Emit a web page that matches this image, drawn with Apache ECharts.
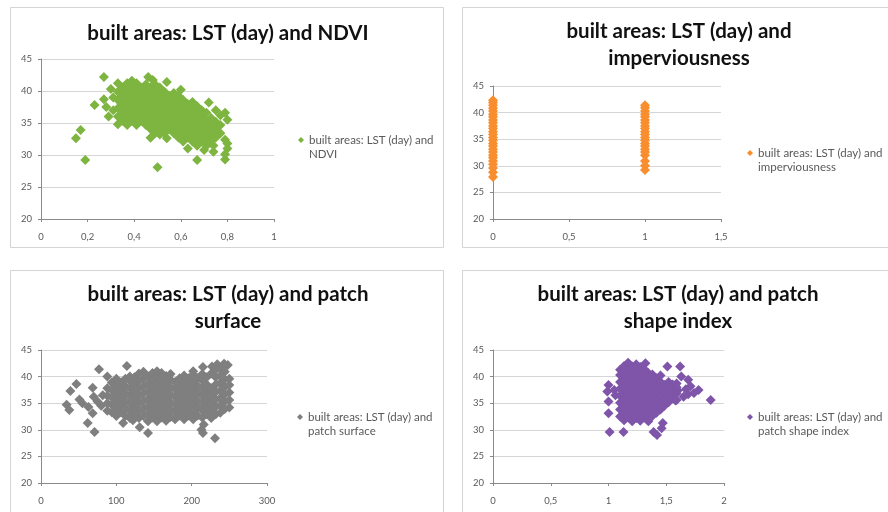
<!DOCTYPE html>
<html>
<head>
<meta charset="utf-8">
<script src="https://cdn.jsdelivr.net/npm/echarts@6/dist/echarts.min.js"></script>
<style>
  html, body { margin: 0; padding: 0; background: #fff; }
  #chart { width: 888px; height: 512px; }
</style>
</head>
<body>
<div id="chart"></div>
<script>
  // values (x, LST day)
  var ndviPts = [
    [0.15, 32.6], [0.17, 33.9], [0.19, 29.2], [0.23, 37.8], [0.27, 42.2], [0.27, 38.7], [0.28, 37.5], [0.29, 36.0],
    [0.30, 40.3], [0.31, 39.0], [0.31, 37.0], [0.33, 34.8], [0.46, 42.2], [0.48, 41.7], [0.54, 41.4], [0.60, 40.2],
    [0.50, 28.1], [0.47, 32.7], [0.54, 32.6], [0.67, 29.2], [0.63, 31.0], [0.70, 30.8], [0.74, 30.5], [0.74, 31.5],
    [0.79, 29.3], [0.79, 30.1], [0.80, 31.0], [0.80, 31.8], [0.79, 32.4], [0.80, 35.5], [0.79, 36.6], [0.75, 37.0],
    [0.77, 36.2], [0.72, 38.2],
    [0.33, 36.0], [0.33, 37.3], [0.33, 38.6], [0.33, 39.9], [0.33, 41.2],
    [0.35, 35.35], [0.35, 36.65], [0.35, 37.95], [0.35, 39.25], [0.35, 40.55],
    [0.37, 34.7], [0.37, 36.0], [0.37, 37.3], [0.37, 38.6], [0.37, 39.9], [0.37, 41.2],
    [0.39, 35.35], [0.39, 36.65], [0.39, 37.95], [0.39, 39.25], [0.39, 40.55], [0.39, 41.6],
    [0.41, 34.7], [0.41, 36.0], [0.41, 37.3], [0.41, 38.6], [0.41, 39.9], [0.41, 41.2],
    [0.43, 35.35], [0.43, 36.65], [0.43, 37.95], [0.43, 39.25], [0.43, 40.55],
    [0.45, 34.7], [0.45, 36.0], [0.45, 37.3], [0.45, 38.6], [0.45, 39.9], [0.45, 41.0],
    [0.47, 34.05], [0.47, 35.35], [0.47, 36.65], [0.47, 37.95], [0.47, 39.25], [0.47, 40.55],
    [0.49, 33.4], [0.49, 34.7], [0.49, 36.0], [0.49, 37.3], [0.49, 38.6], [0.49, 39.9], [0.49, 41.0],
    [0.51, 33.2], [0.51, 34.05], [0.51, 35.35], [0.51, 36.65], [0.51, 37.95], [0.51, 39.25], [0.51, 40.55],
    [0.53, 33.4], [0.53, 34.7], [0.53, 36.0], [0.53, 37.3], [0.53, 38.6], [0.53, 39.9],
    [0.55, 34.05], [0.55, 35.35], [0.55, 36.65], [0.55, 37.95], [0.55, 39.25],
    [0.57, 33.4], [0.57, 34.7], [0.57, 36.0], [0.57, 37.3], [0.57, 38.6], [0.57, 39.7],
    [0.59, 32.75], [0.59, 34.05], [0.59, 35.35], [0.59, 36.65], [0.59, 37.95], [0.59, 39.25],
    [0.61, 32.1], [0.61, 33.4], [0.61, 34.7], [0.61, 36.0], [0.61, 37.3], [0.61, 38.6],
    [0.63, 32.75], [0.63, 34.05], [0.63, 35.35], [0.63, 36.65], [0.63, 37.95],
    [0.65, 32.1], [0.65, 33.4], [0.65, 34.7], [0.65, 36.0], [0.65, 37.3], [0.65, 38.3],
    [0.67, 31.45], [0.67, 32.75], [0.67, 34.05], [0.67, 35.35], [0.67, 36.65], [0.67, 37.6],
    [0.69, 32.1], [0.69, 33.4], [0.69, 34.7], [0.69, 36.0], [0.69, 37.0],
    [0.71, 31.45], [0.71, 32.75], [0.71, 34.05], [0.71, 35.35], [0.71, 36.6],
    [0.73, 32.1], [0.73, 33.4], [0.73, 34.7], [0.73, 35.8],
    [0.75, 32.75], [0.75, 34.05], [0.75, 35.2],
    [0.77, 33.4], [0.77, 34.7]
  ]

  var impervPts = [
    [0, 27.9], [0, 28.8], [0, 29.6], [0, 30.3], [0, 30.9], [0, 31.5], [0, 32.0], [0, 32.6], [0, 33.1],
    [0, 33.7], [0, 34.2], [0, 34.8], [0, 35.3], [0, 35.9], [0, 36.4], [0, 37.0], [0, 37.5], [0, 38.1],
    [0, 38.6], [0, 39.2], [0, 39.7], [0, 40.3], [0, 40.8], [0, 41.4], [0, 41.9], [0, 42.3],
    [1, 29.2], [1, 30.0], [1, 30.9], [1, 32.0], [1, 32.6], [1, 33.1], [1, 33.7], [1, 34.2], [1, 34.8],
    [1, 35.3], [1, 35.9], [1, 36.4], [1, 37.0], [1, 37.5], [1, 38.1], [1, 38.6], [1, 39.2], [1, 39.7],
    [1, 40.3], [1, 40.9], [1, 41.4]
  ]

  var surfacePts = [
    [34, 34.7], [37.6, 33.7], [39, 37.3], [47, 38.6], [51, 35.7], [55, 35.0], [63, 34.3], [68.6, 37.9],
    [70, 36.2], [75, 35.3], [68.6, 33.1], [62, 31.3], [71, 29.6], [77, 41.4], [88, 40.0], [109, 31.3],
    [114, 42.0], [122, 31.8], [131, 30.5], [142, 29.4], [213, 30.0], [215, 29.4], [216, 31.0], [231, 28.4],
    [215, 41.8], [227, 41.9], [234, 42.3], [243, 42.4], [248, 42.2], [82, 36.5], [80, 34.5],
    [88, 33.6], [88, 35.0], [88, 36.4], [88, 37.8],
    [94, 33.3], [94, 34.7], [94, 36.1], [94, 37.5], [94, 38.9],
    [100, 32.6], [100, 34.0], [100, 35.4], [100, 36.8], [100, 38.2], [100, 39.6],
    [106, 33.3], [106, 34.7], [106, 36.1], [106, 37.5], [106, 38.9],
    [112, 32.6], [112, 34.0], [112, 35.4], [112, 36.8], [112, 38.2], [112, 39.6],
    [118, 32.2], [118, 33.6], [118, 35.0], [118, 36.4], [118, 37.8], [118, 39.2], [118, 40.0],
    [124, 32.9], [124, 34.3], [124, 35.7], [124, 37.1], [124, 38.5], [124, 39.9],
    [130, 32.2], [130, 33.6], [130, 35.0], [130, 36.4], [130, 37.8], [130, 39.2], [130, 40.6],
    [136, 32.6], [136, 34.0], [136, 35.4], [136, 36.8], [136, 38.2], [136, 39.6], [136, 40.9],
    [142, 31.6], [142, 33.0], [142, 34.4], [142, 35.8], [142, 37.2], [142, 38.6], [142, 40.0],
    [148, 32.3], [148, 33.7], [148, 35.1], [148, 36.5], [148, 37.9], [148, 39.3], [148, 40.7],
    [154, 31.6], [154, 33.0], [154, 34.4], [154, 35.8], [154, 37.2], [154, 38.6], [154, 40.0], [154, 41.0],
    [160, 32.3], [160, 33.7], [160, 35.1], [160, 36.5], [160, 37.9], [160, 39.3], [160, 40.7],
    [166, 31.7], [166, 33.1], [166, 34.5], [166, 35.9], [166, 37.3], [166, 38.7], [166, 40.1],
    [172, 32.4], [172, 33.8], [172, 35.2], [172, 36.6], [172, 38.0], [172, 39.4], [172, 40.5],
    [178, 32.0], [178, 33.4], [178, 34.8], [178, 36.2], [178, 37.6], [178, 39.0],
    [184, 32.7], [184, 34.1], [184, 35.5], [184, 36.9], [184, 38.3], [184, 39.7],
    [190, 32.0], [190, 33.4], [190, 34.8], [190, 36.2], [190, 37.6], [190, 39.0], [190, 40.2],
    [196, 32.7], [196, 34.1], [196, 35.5], [196, 36.9], [196, 38.3], [196, 39.7],
    [202, 32.0], [202, 33.4], [202, 34.8], [202, 36.2], [202, 37.6], [202, 39.0], [202, 40.4], [202, 41.0],
    [208, 32.7], [208, 34.1], [208, 35.5], [208, 36.9], [208, 38.3], [208, 39.7],
    [214, 32.3], [214, 33.7], [214, 35.1], [214, 36.5], [214, 37.9], [214, 39.3], [214, 40.5],
    [220, 32.9], [220, 34.3], [220, 35.7], [220, 37.1], [220, 38.5], [220, 39.9],
    [226, 32.2], [226, 33.6], [226, 35.0], [226, 36.4], [226, 37.8], [226, 40.6],
    [232, 32.9], [232, 34.3], [232, 35.7], [232, 37.1], [232, 38.5], [232, 39.9], [232, 41.3],
    [238, 33.2], [238, 34.6], [238, 36.0], [238, 37.4], [238, 38.8], [238, 40.2], [238, 41.6],
    [244, 33.9], [244, 35.3], [244, 36.7], [244, 38.1], [244, 39.5], [244, 40.9], [244, 42.2],
    [250, 34.2], [250, 35.6], [250, 37.0], [250, 38.4], [250, 39.6]
  ]

  var shapePts = [
    [1.0, 38.4], [0.99, 37.2], [1.0, 35.3], [1.0, 33.1], [1.01, 29.6], [1.13, 29.6], [1.05, 37.5], [1.06, 36.5],
    [1.51, 41.9], [1.62, 41.9], [1.69, 39.4], [1.78, 37.5], [1.74, 36.9], [1.65, 36.2], [1.59, 38.7], [1.63, 40.0],
    [1.885, 35.6], [1.39, 29.6], [1.42, 29.0], [1.47, 31.3], [1.46, 30.3], [1.32, 42.5],
    [1.56, 38.0], [1.60, 37.4], [1.67, 37.6], [1.71, 38.2], [1.55, 36.5], [1.58, 35.5], [1.69, 36.7],
    [1.10, 32.5], [1.10, 33.8], [1.10, 35.1], [1.10, 36.4], [1.10, 37.7], [1.10, 39.0], [1.10, 40.3], [1.10, 41.3],
    [1.135, 31.8], [1.135, 33.1], [1.135, 34.4], [1.135, 35.7], [1.135, 37.0], [1.135, 38.3], [1.135, 39.6], [1.135, 40.9], [1.135, 42.0],
    [1.17, 32.3], [1.17, 33.6], [1.17, 34.9], [1.17, 36.2], [1.17, 37.5], [1.17, 38.8], [1.17, 40.1], [1.17, 41.4], [1.17, 42.6],
    [1.205, 31.6], [1.205, 32.9], [1.205, 34.2], [1.205, 35.5], [1.205, 36.8], [1.205, 38.1], [1.205, 39.4], [1.205, 40.7], [1.205, 41.9],
    [1.24, 32.2], [1.24, 33.5], [1.24, 34.8], [1.24, 36.1], [1.24, 37.4], [1.24, 38.7], [1.24, 40.0], [1.24, 41.3], [1.24, 42.3],
    [1.275, 31.7], [1.275, 33.0], [1.275, 34.3], [1.275, 35.6], [1.275, 36.9], [1.275, 38.2], [1.275, 39.5], [1.275, 40.8], [1.275, 41.8],
    [1.31, 32.3], [1.31, 33.6], [1.31, 34.9], [1.31, 36.2], [1.31, 37.5], [1.31, 38.8], [1.31, 40.1], [1.31, 41.4],
    [1.345, 31.6], [1.345, 32.9], [1.345, 34.2], [1.345, 35.5], [1.345, 36.8], [1.345, 38.1], [1.345, 39.4], [1.345, 40.7],
    [1.38, 32.6], [1.38, 33.9], [1.38, 35.2], [1.38, 36.5], [1.38, 37.8], [1.38, 39.1], [1.38, 40.4],
    [1.415, 33.2], [1.415, 34.5], [1.415, 35.8], [1.415, 37.1], [1.415, 38.4], [1.415, 39.7],
    [1.45, 33.8], [1.45, 35.1], [1.45, 36.4], [1.45, 37.7], [1.45, 39.0], [1.45, 40.2],
    [1.485, 34.5], [1.485, 35.8], [1.485, 37.1], [1.485, 38.4],
    [1.52, 35.2], [1.52, 36.5], [1.52, 37.8], [1.52, 39.0],
    [1.555, 36.0], [1.555, 37.3], [1.555, 38.5],
    [1.59, 35.6], [1.59, 36.8], [1.59, 38.0]
  ]

  var panelNames = [
    'built areas: LST (day) and NDVI',
    'built areas: LST (day) and imperviousness',
    'built areas: LST (day) and patch surface',
    'built areas: LST (day) and patch shape index'
  ]
  var titleLines = [
    'built areas: LST (day) and NDVI',
    'built areas: LST (day) and\nimperviousness',
    'built areas: LST (day) and patch\nsurface',
    'built areas: LST (day) and patch\nshape index'
  ]
  var legendSecondLines = ['NDVI', 'imperviousness', 'patch surface', 'patch shape index']
  var xMax = [1, 1.5, 300, 2]
  var xStep = [0.2, 0.5, 100, 0.5]
  var yTicks = [20, 25, 30, 35, 40, 45]
  var colors = ['#7db540', '#f98e2e', '#7f7f7f', '#7f55a9']

  var font = 'Lato, "Open Sans", sans-serif'
  var grids = [
    { left: 41, top: 59, width: 233, height: 160 },
    { left: 493, top: 86, width: 228, height: 133 },
    { left: 41, top: 350, width: 226, height: 133 },
    { left: 493, top: 350, width: 231, height: 133 }
  ]
  var boxes = [
    { x: 10.5, y: 7.5, width: 433, height: 240 },
    { x: 462.5, y: 7.5, width: 440, height: 240 },
    { x: 10.5, y: 270.5, width: 433, height: 260 },
    { x: 462.5, y: 270.5, width: 440, height: 260 }
  ]
  var titlePos = [[228, 33], [679, 45], [228, 308], [678, 308]]
  var legendPos = [[298, 140], [747, 153], [297, 417], [747, 417]]
  var allData = [ndviPts, impervPts, surfacePts, shapePts]

  var comma = function (v) { return String(v).replace('.', ',') }

  var chart = echarts.init(document.getElementById('chart'))
  var graphics = []
  var legends = []
  var xAxes = []
  var yAxes = []
  var series = []

  for (var i = 0; i < 4; i++) {
    graphics.push({
      type: 'rect', shape: boxes[i], z: -1,
      style: { fill: '#fff', stroke: '#d4d4d4', lineWidth: 1 }
    })
    graphics.push({
      type: 'text', x: titlePos[i][0], y: titlePos[i][1],
      style: {
        text: titleLines[i], align: 'center', verticalAlign: 'middle',
        fontFamily: font, fontWeight: 'bold', fontSize: 20.5, lineHeight: 27, fill: '#111'
      }
    })
    graphics.push({
      type: 'text', x: legendPos[i][0] + 11, y: legendPos[i][1] + 14,
      style: {
        text: legendSecondLines[i], align: 'left', verticalAlign: 'middle',
        fontFamily: font, fontSize: 11.5, fill: '#595959'
      }
    })
    legends.push({
      data: [panelNames[i]],
      left: legendPos[i][0], top: legendPos[i][1] - 7,
      padding: 0,
      selectedMode: false,
      icon: 'diamond', itemWidth: 6, itemHeight: 6,
      formatter: function () { return 'built areas: LST (day) and' },
      textStyle: { fontFamily: font, fontSize: 11.5, lineHeight: 14, color: '#595959' }
    })
    xAxes.push({
      gridIndex: i, type: 'value', min: 0, max: xMax[i], interval: xStep[i],
      axisLine: { show: true, onZero: false, lineStyle: { color: '#8a8a8a' } },
      axisTick: { show: true, length: 3, lineStyle: { color: '#8a8a8a' } },
      splitLine: { show: false },
      axisLabel: { formatter: comma, margin: 13, fontFamily: font, fontSize: 9.5, color: '#595959' }
    })
    yAxes.push({
      gridIndex: i, type: 'value', min: yTicks[0], max: yTicks[yTicks.length - 1], interval: yTicks[1] - yTicks[0],
      axisLine: { show: true, onZero: false, lineStyle: { color: '#8a8a8a' } },
      axisTick: { show: true, length: 3, lineStyle: { color: '#8a8a8a' } },
      splitLine: { show: true, lineStyle: { color: '#d6d6d6', width: 1 } },
      axisLabel: { margin: 9, fontFamily: font, fontSize: 9.5, color: '#595959' }
    })
    series.push({
      name: panelNames[i],
      type: 'scatter',
      xAxisIndex: i, yAxisIndex: i,
      symbol: 'diamond', symbolSize: 10,
      clip: false,
      itemStyle: { color: colors[i], opacity: 1 },
      data: allData[i]
    })
  }

  chart.setOption({
    animation: false,
    backgroundColor: '#fff',
    color: colors,
    grid: grids,
    xAxis: xAxes,
    yAxis: yAxes,
    legend: legends,
    graphic: graphics,
    series: series
  })
</script>
</body>
</html>
